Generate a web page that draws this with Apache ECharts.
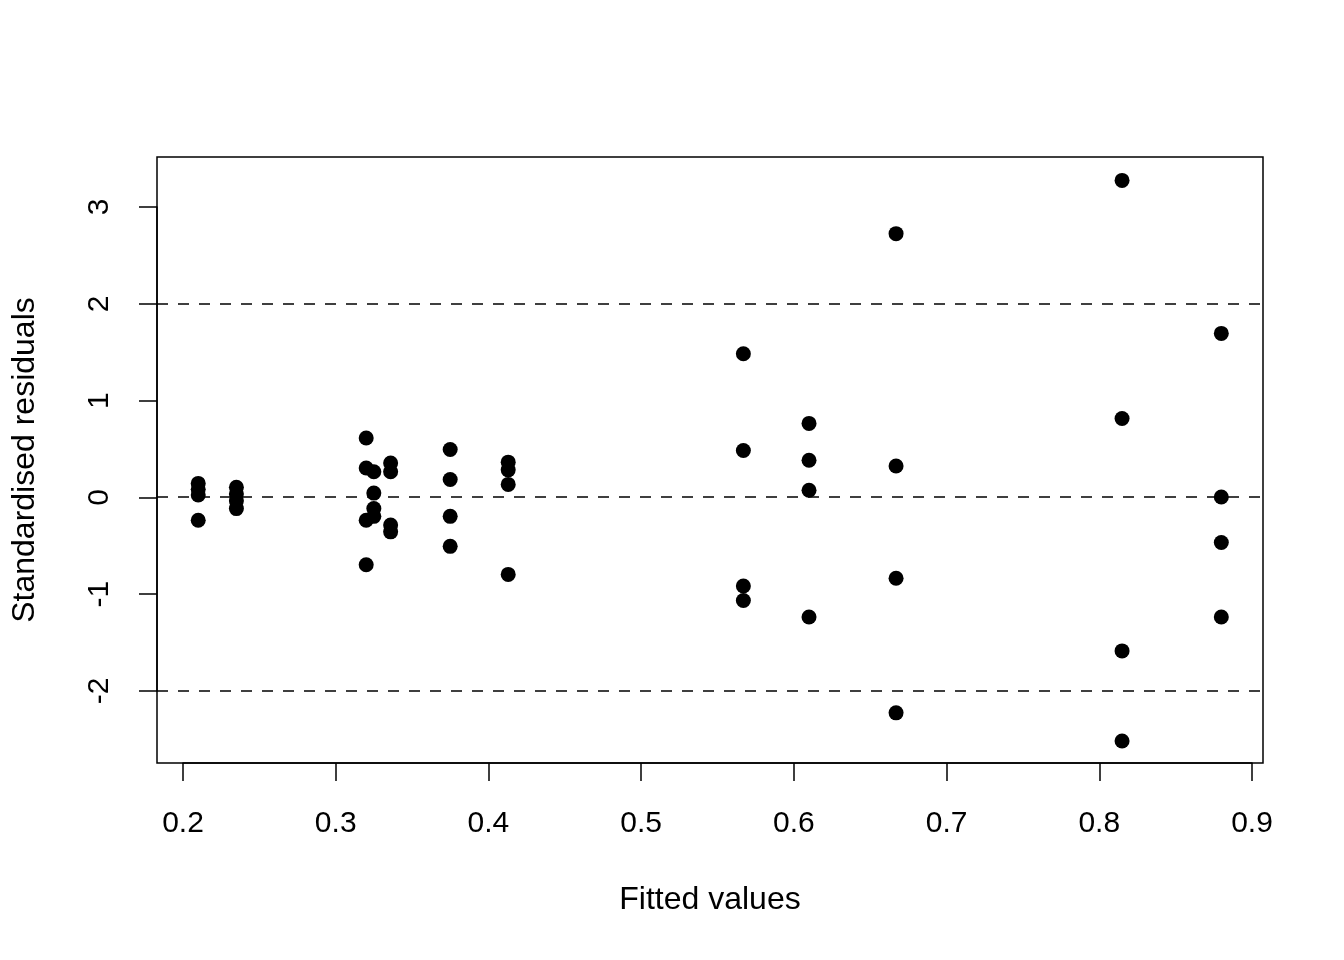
<!DOCTYPE html>
<html>
<head>
<meta charset="utf-8">
<script src="https://cdn.jsdelivr.net/npm/echarts@6/dist/echarts.min.js"></script>
<style>
  html, body { margin: 0; padding: 0; background: #fff; }
  #chart { width: 1344px; height: 960px; }
</style>
</head>
<body>
<div id="chart"></div>
<script>
// fitted values (x) and standardised residuals (y)
var fitted = [
    0.21, 0.21, 0.21, 0.21,
    0.235, 0.235, 0.235, 0.235,
    0.32, 0.32, 0.32, 0.32,
    0.325, 0.325, 0.325, 0.325,
    0.336, 0.336, 0.336, 0.336,
    0.375, 0.375, 0.375, 0.375,
    0.413, 0.413, 0.413, 0.413,
    0.567, 0.567, 0.567, 0.567,
    0.61, 0.61, 0.61, 0.61,
    0.667, 0.667, 0.667, 0.667,
    0.815, 0.815, 0.815, 0.815,
    0.88, 0.88, 0.88, 0.88
];
var residuals = [
    0.14, 0.08, 0.02, -0.24,
    0.10, 0.03, -0.04, -0.12,
    0.61, 0.30, -0.24, -0.70,
    0.26, 0.04, -0.12, -0.20,
    0.35, 0.26, -0.29, -0.36,
    0.49, 0.18, -0.20, -0.51,
    0.36, 0.28, 0.13, -0.80,
    1.48, 0.48, -0.92, -1.07,
    0.76, 0.38, 0.07, -1.24,
    2.72, 0.32, -0.84, -2.23,
    3.27, 0.81, -1.59, -2.52,
    1.69, 0.00, -0.47, -1.24
];
var refLines = [-2, 0, 2];
var xTicks = { min: 0.2, max: 0.9, step: 0.1 };
var yTicks = { min: -2, max: 3, step: 1 };

var points = [];
for (var i = 0; i < fitted.length; i++) {
    points.push([fitted[i], residuals[i]]);
}

var font = 'Liberation Sans, Arial, Helvetica, sans-serif';
var myChart = echarts.init(document.getElementById('chart'));

var option = {
    animation: false,
    backgroundColor: '#fff',
    grid: [
        // plotting box
        { left: 157, top: 157, width: 1106, height: 606, show: true,
          borderColor: '#000', borderWidth: 1.5, backgroundColor: 'transparent' },
        // axis grid: spans from first to last tick
        { left: 183, top: 207, width: 1069, height: 484, show: false }
    ],
    xAxis: [
        {
            gridIndex: 0, type: 'value', min: 0.183, max: 0.9073,
            axisLine: { show: false }, axisTick: { show: false },
            axisLabel: { show: false }, splitLine: { show: false },
            name: 'Fitted values', nameLocation: 'middle', nameGap: 121,
            nameTextStyle: { fontFamily: font, fontSize: 32, color: '#000' }
        },
        {
            gridIndex: 1, type: 'value', position: 'bottom', offset: 72,
            min: xTicks.min, max: xTicks.max, interval: xTicks.step,
            axisLine: { show: true, onZero: false, lineStyle: { color: '#000', width: 1.5 } },
            axisTick: { show: true, inside: false, length: 18, lineStyle: { color: '#000', width: 1.5 } },
            axisLabel: { show: true, margin: 46, fontFamily: font, fontSize: 30, color: '#000',
                         formatter: function (v) { return v.toFixed(1); } },
            splitLine: { show: false }
        }
    ],
    yAxis: [
        {
            gridIndex: 0, type: 'value', min: -2.748, max: 3.512,
            axisLine: { show: false }, axisTick: { show: false },
            axisLabel: { show: false }, splitLine: { show: false },
            name: 'Standardised residuals', nameLocation: 'middle', nameGap: 116,
            nameRotate: 90,
            nameTextStyle: { fontFamily: font, fontSize: 32, color: '#000' }
        },
        {
            gridIndex: 1, type: 'value', position: 'left', offset: 26,
            min: yTicks.min, max: yTicks.max, interval: yTicks.step,
            axisLine: { show: true, onZero: false, lineStyle: { color: '#000', width: 1.5 } },
            axisTick: { show: true, inside: false, length: 18, lineStyle: { color: '#000', width: 1.5 } },
            axisLabel: { show: true, margin: 42, rotate: 90, fontFamily: font, fontSize: 30, color: '#000' },
            splitLine: { show: false }
        }
    ],
    series: [
        {
            type: 'scatter',
            xAxisIndex: 0, yAxisIndex: 0,
            data: points,
            symbol: 'circle',
            symbolSize: 15,
            itemStyle: { color: '#000', opacity: 1 },
            markLine: {
                silent: true,
                symbol: ['none', 'none'],
                label: { show: false },
                lineStyle: { color: '#000', width: 1.5, type: [11, 10] },
                data: refLines.map(function (v) { return { yAxis: v }; })
            }
        }
    ]
};
myChart.setOption(option);
</script>
</body>
</html>
